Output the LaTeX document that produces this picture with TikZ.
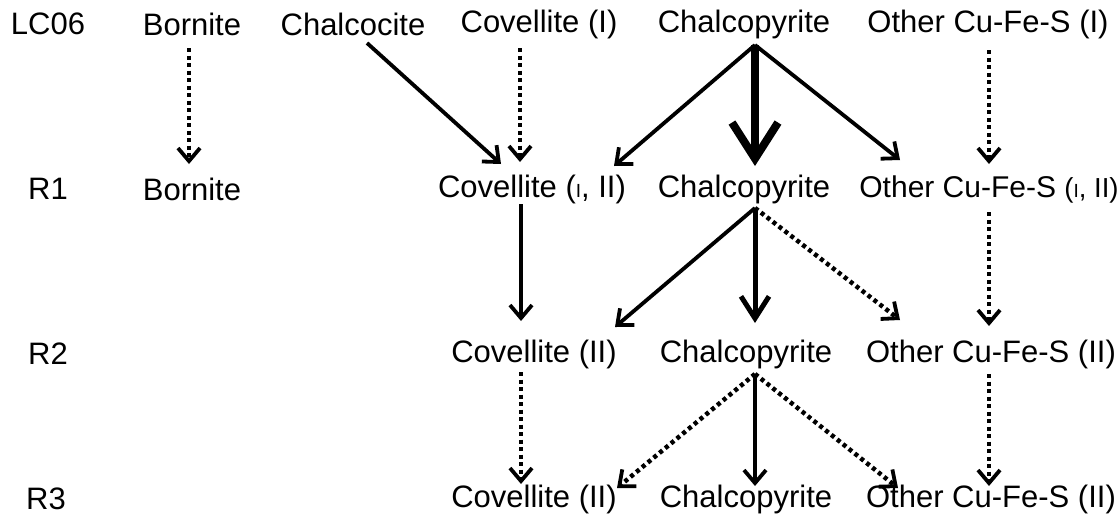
\documentclass[tikz,border=0pt]{standalone}
\usepackage{fontspec}
\setmainfont{Liberation Sans}
\usetikzlibrary{arrows.meta}
\begin{document}
\begin{tikzpicture}[x=1pt,y=-1pt,
  lbl/.style={inner sep=0pt,font=\fontsize{31}{31}\selectfont},
  arr/.style={line width=3.8pt,-{Straight Barb[length=13pt,width=22pt,line width=3.8pt]}},
  dotarr/.style={line width=4.5pt,dash pattern=on 4pt off 3.5pt,-{Straight Barb[length=13pt,width=22pt,line width=3.8pt]}},
  bigarr/.style={line width=8pt,-{Straight Barb[length=36pt,width=46pt,line width=8pt]}},
  medarr/.style={line width=5pt,-{Straight Barb[length=22pt,width=28pt,line width=5pt]}}]
\useasboundingbox (0,0) rectangle (1120,525);
\newcommand{\smI}{{\fontsize{19}{19}\selectfont I}}
% row 0
\node[lbl] (lc) at (48,24) {LC06};
\node[lbl] (bo0) at (192,24) {Bornite};
\node[lbl] (cc0) at (353,24) {Chalcocite};
\node[lbl] (cv0) at (539,24) {Covellite (I)};
\node[lbl] (cp0) at (744,24) {Chalcopyrite};
\node[lbl] (ot0) at (988,24) {Other Cu-Fe-S (I)};
% row 1
\node[lbl] (r1) at (48,189) {R1};
\node[lbl] (bo1) at (192,189) {Bornite};
\node[lbl] (cv1) at (532,189) {Covellite (\smI, II)};
\node[lbl] (cp1) at (744,189) {Chalcopyrite};
\node[lbl,font=\fontsize{30}{30}\selectfont] (ot1) at (989,189) {Other Cu-Fe-S {\fontsize{27.5}{27.5}\selectfont(\smI, II)}};
% row 2
\node[lbl] (r2) at (48,354) {R2};
\node[lbl] (cv2) at (534,354) {Covellite (II)};
\node[lbl] (cp2) at (746,354) {Chalcopyrite};
\node[lbl] (ot2) at (991,354) {Other Cu-Fe-S (II)};
% row 3
\node[lbl] (r3) at (46,499) {R3};
\node[lbl] (cv3) at (534,499) {Covellite (II)};
\node[lbl] (cp3) at (746,499) {Chalcopyrite};
\node[lbl] (ot3) at (991,499) {Other Cu-Fe-S (II)};
% attachment points
\coordinate (bo0s) at (189,48);  \coordinate (bo1n) at (189,164);
\coordinate (cc0s) at (367,43);  \coordinate (cv1w) at (501,164);
\coordinate (cv0s) at (520,48);  \coordinate (cv1n) at (520,162);
\coordinate (cp0s) at (755,45);
\coordinate (cv1e) at (614,166);
\coordinate (cp1n) at (755,166);
\coordinate (ot1w) at (900,160);
\coordinate (ot0s) at (989,50);  \coordinate (ot1n) at (989,164);
% row1 -> row2
\coordinate (cv1s) at (521,204); \coordinate (cv2n) at (521,321);
\coordinate (cp1s) at (755,208);
\coordinate (cv2e) at (615,327);
\coordinate (cp2n) at (755,323);
\coordinate (ot2w) at (900,320);
\coordinate (ot1s) at (989,212); \coordinate (ot2n) at (989,326);
% row2 -> row3
\coordinate (cv2s) at (521,372); \coordinate (cv3n) at (521,484);
\coordinate (cp2s) at (755,374);
\coordinate (cv3e) at (617,488);
\coordinate (cp3n) at (755,486);
\coordinate (ot3w) at (898,488);
\coordinate (ot2s) at (989,374); \coordinate (ot3n) at (989,486);
% connectors
\draw[dotarr] (bo0s) -- (bo1n);
\draw[arr] (cc0s) -- (cv1w);
\draw[dotarr] (cv0s) -- (cv1n);
\draw[arr] (cp0s) -- (cv1e);
\draw[bigarr] (cp0s) -- (cp1n);
\draw[arr] (cp0s) -- (ot1w);
\draw[dotarr] (ot0s) -- (ot1n);
\draw[arr] (cv1s) -- (cv2n);
\draw[arr] (cp1s) -- (cv2e);
\draw[medarr] (cp1s) -- (cp2n);
\draw[dotarr] (cp1s) -- (ot2w);
\draw[dotarr] (ot1s) -- (ot2n);
\draw[dotarr] (cv2s) -- (cv3n);
\draw[dotarr] (cp2s) -- (cv3e);
\draw[arr] (cp2s) -- (cp3n);
\draw[dotarr] (cp2s) -- (ot3w);
\draw[dotarr] (ot2s) -- (ot3n);
\end{tikzpicture}
\end{document}
